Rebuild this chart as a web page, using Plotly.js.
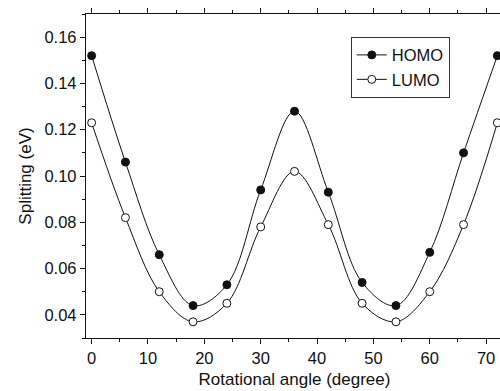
<!DOCTYPE html>
<html><head><meta charset="utf-8">
<script src="https://cdn.plot.ly/plotly-3.0.1.min.js"></script>
<style>html,body{margin:0;padding:0;overflow:hidden;background:#fff;}</style>
</head><body><div id="chart"></div>
<script>
const angles = [0, 6, 12, 18, 24, 30, 36, 42, 48, 54, 60, 66, 72];
const homo = [0.152, 0.106, 0.066, 0.044, 0.053, 0.094, 0.128, 0.093, 0.054, 0.044, 0.067, 0.110, 0.152];
const lumo = [0.123, 0.082, 0.050, 0.037, 0.045, 0.078, 0.102, 0.079, 0.045, 0.037, 0.050, 0.079, 0.123];
const xTicks = [0, 10, 20, 30, 40, 50, 60, 70];
const yTicks = [0.04, 0.06, 0.08, 0.10, 0.12, 0.14, 0.16];

const font = {family: 'Liberation Sans, Arial, sans-serif', color: '#111'};
const traces = [
  {x: angles, y: homo, name: 'HOMO', mode: 'lines+markers', line: {shape: 'spline', smoothing: 1, color: '#111', width: 1},
   marker: {symbol: 'circle', size: 8, color: '#111', line: {color: '#111', width: 1}}},
  {x: angles, y: lumo, name: 'LUMO', mode: 'lines+markers', line: {shape: 'spline', smoothing: 1, color: '#111', width: 1},
   marker: {symbol: 'circle', size: 8, color: '#fff', line: {color: '#111', width: 1}}}
];
const axBase = {showgrid: false, zeroline: false, showline: true, linecolor: '#111', linewidth: 1.2,
  ticks: 'outside', ticklen: 5, tickwidth: 1, tickcolor: '#111', mirror: 'allticks',
  tickfont: Object.assign({size: 16.5}, font)};
const layout = {
  width: 510, height: 391, margin: {l: 86, r: 7, t: 14, b: 53},
  paper_bgcolor: '#fff', plot_bgcolor: '#fff', font: font,
  showlegend: true,
  legend: {x: 0.635, y: 0.93, xanchor: 'left', yanchor: 'top', bordercolor: '#333', borderwidth: 1,
    bgcolor: '#fff', font: Object.assign({size: 16.5}, font), tracegroupgap: 0},
  xaxis: Object.assign({}, axBase, {range: [-1, 73], tickvals: xTicks, ticktext: xTicks.map(String),
    minor: {dtick: 5, ticks: 'outside', ticklen: 3, tickcolor: '#111'},
    title: {text: 'Rotational angle (degree)', font: Object.assign({size: 17}, font), standoff: 7}}),
  yaxis: Object.assign({}, axBase, {range: [0.03, 0.17], tickvals: yTicks, ticktext: yTicks.map(v => v.toFixed(2)),
    minor: {dtick: 0.01, ticks: 'outside', ticklen: 3, tickcolor: '#111'},
    title: {text: 'Splitting (eV)', font: Object.assign({size: 17}, font), standoff: 8}})
};
Plotly.newPlot('chart', traces, layout, {displayModeBar: false, staticPlot: true});
</script></body></html>
